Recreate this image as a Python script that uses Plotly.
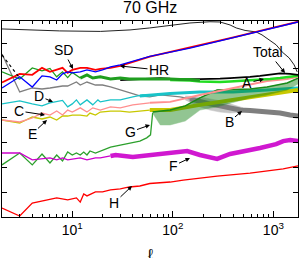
import numpy as np
import plotly.graph_objects as go

# ---------------- data (multipole ell, log10 power in arbitrary units) ----------------
top_ell = [2, 3.8, 7.5, 19, 37.5, 59, 94, 148, 234, 295, 371, 427, 523, 672, 771, 906, 1065, 1224, 1437, 1610, 1725]
top_u = [7.58, 7.54, 7.50, 7.48, 7.54, 7.62, 7.72, 7.82, 7.87, 7.86, 7.74, 7.62, 7.52, 7.46, 7.34, 7.14, 6.94, 6.65, 6.41, 6.13, 5.85]

dot_ell = [2, 3]
dot_u = [6.53, 5.60]

hr_ell = [2, 3, 4, 5, 6, 7, 8, 9, 10, 12, 14, 17, 20, 24, 30, 59, 148, 400, 1000, 1758]
hr_u = [5.20, 5.65, 5.24, 5.69, 5.65, 5.52, 5.77, 5.85, 5.81, 5.85, 5.93, 5.85, 5.93, 6.05, 6.13, 6.47, 6.81, 7.23, 7.62, 7.86]

sd_ell = [2, 3, 4, 5, 6, 7, 8, 9, 10, 12, 14, 17, 19, 24, 30, 59, 148, 400, 1000, 1758]
sd_u = [5.42, 5.77, 5.73, 6.01, 5.85, 5.93, 6.01, 5.81, 5.93, 6.01, 6.01, 5.93, 5.97, 6.01, 6.09, 6.46, 6.82, 7.24, 7.63, 7.87]

grn_ell = [2, 3, 4, 5, 6, 7, 8, 9, 10, 12]
grn_u = [5.85, 5.56, 6.01, 5.89, 5.99, 5.65, 5.85, 5.62, 5.83, 5.60]
grnb_ell = [12, 14, 16, 19, 24, 30, 37, 47, 59, 75, 94, 118, 148, 186]
grnb_u = [5.60, 5.73, 5.60, 5.65, 5.56, 5.60, 5.56, 5.56, 5.56, 5.58, 5.56, 5.54, 5.54, 5.50]

a_ell = [94, 148, 186, 234, 295, 371, 466, 586, 737, 927, 1165, 1466, 1758]
a_u = [5.52, 5.50, 5.46, 5.44, 5.44, 5.46, 5.48, 5.52, 5.54, 5.56, 5.60, 5.65, 5.69]

tot_ell = [30, 37, 47, 59, 75, 94, 118, 148, 186, 234, 295, 371, 466, 586, 737, 927, 1165, 1466, 1758]
tot_u = [5.52, 5.54, 5.58, 5.60, 5.60, 5.58, 5.56, 5.56, 5.56, 5.56, 5.58, 5.60, 5.62, 5.65, 5.69, 5.73, 5.79, 5.77, 5.73]

b_ell = [2, 3, 4, 5, 6, 7, 8, 9, 10, 11, 12, 14, 17, 20, 24, 30, 37, 47, 59, 75, 94, 118, 148, 186]
b_u = [6.57, 5.04, 5.20, 5.16, 5.20, 5.24, 5.28, 5.28, 5.36, 5.44, 5.32, 5.44, 5.32, 5.32, 5.24, 5.12, 5.00, 4.88, 4.84, 4.92, 4.88, 4.84, 4.76, 4.64]
bb_ell = [148, 186, 234, 295, 371, 466, 586, 737, 927, 1165, 1466, 1758]
bb_u = [4.76, 4.64, 4.56, 4.48, 4.40, 4.31, 4.29, 4.27, 4.23, 4.19, 4.11, 4.07]
bt_ell = [133, 186, 234, 295, 371, 500]
bt_hi = [4.88, 4.84, 4.76, 4.68, 4.56, 4.40]
bt_lo = [4.72, 4.44, 4.31, 4.23, 4.19, 4.23]

d_ell = [2, 3, 4, 5, 6, 7, 8, 9, 10, 11, 12, 14, 16, 18, 19, 24, 30, 40, 50, 59]
d_u = [4.56, 4.68, 4.56, 4.48, 4.60, 4.66, 4.70, 4.44, 4.56, 4.72, 4.52, 4.72, 4.52, 4.72, 4.64, 4.72, 4.72, 4.84, 4.92, 4.92]
db_ell = [47, 59, 94, 186, 398, 865, 1758]
db_u = [4.88, 4.92, 4.98, 5.04, 5.04, 5.12, 5.20]

c_ell = [2, 3, 4, 5, 6, 7, 8, 9, 10, 12, 14, 16, 19, 24, 30, 40, 59]
c_u = [3.91, 3.83, 3.99, 4.19, 4.11, 4.27, 4.11, 4.31, 4.23, 4.40, 4.23, 4.40, 4.31, 4.44, 4.40, 4.52, 4.60]
cb_ell = [59, 94, 186, 398, 865, 1372, 1758]
cb_u = [4.60, 4.64, 4.92, 5.20, 5.48, 5.56, 5.65]

e_ell = [2, 3, 4, 5, 6, 7, 8, 9, 10, 12, 14, 15, 17, 19, 24, 30, 37, 47, 59]
e_u = [3.91, 3.79, 4.03, 3.95, 4.03, 3.91, 4.07, 4.07, 4.11, 4.11, 4.07, 4.19, 4.11, 4.23, 4.27, 4.27, 4.23, 4.27, 4.31]
eb_ell = [59, 94, 186, 398, 865, 1758]
eb_u = [4.31, 4.31, 4.52, 4.72, 4.96, 5.12]

g_ell = [2, 3, 4, 5, 6, 7, 8, 9, 10, 11, 12, 13, 14, 15, 17, 19, 24, 30, 37, 47, 55, 60, 63]
g_u = [2.10, 2.58, 2.10, 2.54, 2.18, 2.50, 2.26, 2.62, 2.50, 2.58, 2.50, 2.62, 2.50, 2.66, 2.58, 2.66, 2.82, 2.90, 2.98, 3.06, 3.19, 3.31, 4.19]
gh_ell = [63, 75, 94, 133, 186, 276, 586, 865, 1372, 1758]
gh_hi = [4.23, 4.27, 4.31, 4.48, 4.80, 5.12, 5.16, 5.24, 5.40, 5.60]
gh_lo = [4.19, 3.71, 3.71, 3.87, 4.31, 4.44, 4.80, 4.92, 5.12, 5.36]

f_ell = [2, 3, 4, 5, 6, 7, 8, 9, 10, 12, 14, 17, 19, 24]
f_u = [2.58, 2.58, 2.30, 2.34, 2.38, 2.30, 2.38, 2.30, 2.34, 2.38, 2.30, 2.38, 2.38, 2.46]
fb_ell = [24, 27, 40, 59, 94, 139, 186, 276, 371, 466, 586, 737, 1065, 1252, 1466, 1758]
fb_u = [2.46, 2.50, 2.42, 2.50, 2.58, 2.66, 2.50, 2.34, 2.54, 2.62, 2.66, 2.78, 2.94, 3.06, 3.10, 3.06]

h_ell = [2, 3, 4, 5, 7, 9, 11, 12, 13, 14, 17, 20, 24, 30, 37, 47, 59, 94, 127, 276, 586, 1252, 1758]
h_u = [0.36, 0.04, 0.56, 0.65, 0.77, 0.69, 0.77, 0.60, 0.93, 0.85, 1.01, 1.01, 1.09, 1.13, 1.21, 1.25, 1.35, 1.41, 1.49, 1.65, 1.77, 1.94, 2.06]

x_tickvals = [10, 100, 1000]
x_ticktext = ["10<sup>1</sup>", "10<sup>2</sup>", "10<sup>3</sup>"]

# ---------------- figure ----------------
P = lambda u: [10 ** v for v in u]
fig = go.Figure()


def line(x, u, color, width, dash=None, opacity=1.0):
    fig.add_trace(go.Scatter(x=x, y=P(u), mode="lines", opacity=opacity,
                             line=dict(color=color, width=width, dash=dash),
                             hoverinfo="skip"))


def band(x, hi, lo, color, opacity):
    fig.add_trace(go.Scatter(x=list(x) + list(x)[::-1], y=P(list(hi) + list(lo)[::-1]),
                             mode="lines", fill="toself", fillcolor=color,
                             line=dict(width=0.5, color=color), opacity=opacity,
                             hoverinfo="skip"))


line(top_ell, top_u, "#222222", 1.0)
line(b_ell, b_u, "#7f7f7f", 1.3)
line(bb_ell, bb_u, "#7f7f7f", 5)
band(bt_ell, bt_hi, bt_lo, "#7f7f7f", 0.45)
line(d_ell, d_u, "#19c3c8", 1.3)
line(db_ell, db_u, "#19c3c8", 3)
line(e_ell, e_u, "#c8c800", 1.3)
line(eb_ell, eb_u, "#c8c800", 4)
band(gh_ell, gh_hi, gh_lo, "#0f800f", 0.45)
line(g_ell, g_u, "#2ca02c", 1.3)
line(gh_ell, gh_hi, "#178a17", 1.5)
line(c_ell, c_u, "#ff8f8f", 1.3)
line(cb_ell, cb_u, "#ff8f8f", 2)
line(f_ell, f_u, "#cc00cc", 1.3)
line(fb_ell, fb_u, "#cc00cc", 4.5, opacity=0.9)
line(h_ell, h_u, "#ff0000", 1.3)
line(a_ell, a_u, "#22dd22", 2.5)
line(tot_ell, tot_u, "#000000", 1.8)
line(grn_ell, grn_u, "#1f9e1f", 1.3)
line(grnb_ell, grnb_u, "#1f9e1f", 3)
line(sd_ell, sd_u, "#ff0000", 1.8)
line(hr_ell, hr_u, "#0000ff", 1.3)
line(dot_ell, dot_u, "#000000", 1.2, "dot")

W, H = 299, 258
L, R, T, B = 2, 1, 21, 41
pw, ph = W - L - R, H - T - B


def ann(text, tip, tail):
    fig.add_annotation(text=text, xref="paper", yref="paper",
                       x=(tip[0] - L) / pw, y=(H - B - tip[1]) / ph,
                       ax=tail[0] - tip[0], ay=tail[1] - tip[1],
                       showarrow=True, arrowhead=2, arrowsize=0.9, arrowwidth=1,
                       arrowcolor="black", font=dict(size=14, color="black"))


ann("SD", (73, 69), (63, 50))
ann("HR", (120, 66), (159, 70))
ann("Total", (285, 73), (268, 52))
ann("A", (264, 79), (247, 83))
ann("B", (242, 111), (229, 122))
ann("C", (45, 115), (19, 111))
ann("D", (53, 102), (39, 96))
ann("E", (47, 120), (32, 134))
ann("G", (150, 125), (130, 132))
ann("F", (190, 158), (173, 166))
ann("H", (132, 186), (114, 203))

fig.add_annotation(text="70 GHz", xref="paper", yref="paper", x=0.5, y=(H - B - 8) / ph,
                   showarrow=False, font=dict(size=16, color="black"), yanchor="middle")
fig.add_annotation(text="ℓ", xref="paper", yref="paper", x=0.5, y=-(254 - (H - B)) / ph,
                   showarrow=False, font=dict(size=16, color="black"), yanchor="middle")

minor_vals = [m * 10 ** k for k in range(0, 4) for m in range(2, 10)]
fig.update_xaxes(type="log", range=[np.log10(2), 3.245], tickvals=x_tickvals, ticktext=x_ticktext,
                 ticks="inside", ticklen=6, tickwidth=1, tickcolor="black", automargin=False,
                 minor=dict(tickvals=minor_vals, ticks="inside", ticklen=3, tickcolor="black"),
                 showline=True, linecolor="black", linewidth=1, mirror="ticks",
                 showgrid=False, zeroline=False, tickfont=dict(size=14, color="black"))
fig.update_yaxes(type="log", range=[0, 7.9], tickvals=[10 ** k for k in range(1, 8)],
                 showticklabels=False, ticks="inside", ticklen=5, tickcolor="black", automargin=False,
                 showline=True, linecolor="black", linewidth=1, mirror="ticks",
                 showgrid=False, zeroline=False)
fig.update_layout(width=W, height=H, margin=dict(l=L, r=R, t=T, b=B, autoexpand=False),
                  paper_bgcolor="white", plot_bgcolor="white", showlegend=False,
                  font=dict(family="Liberation Sans, Arial, sans-serif"))
fig.write_html("out.html", config={"displayModeBar": False},
               post_script="document.body.style.margin='0';")
